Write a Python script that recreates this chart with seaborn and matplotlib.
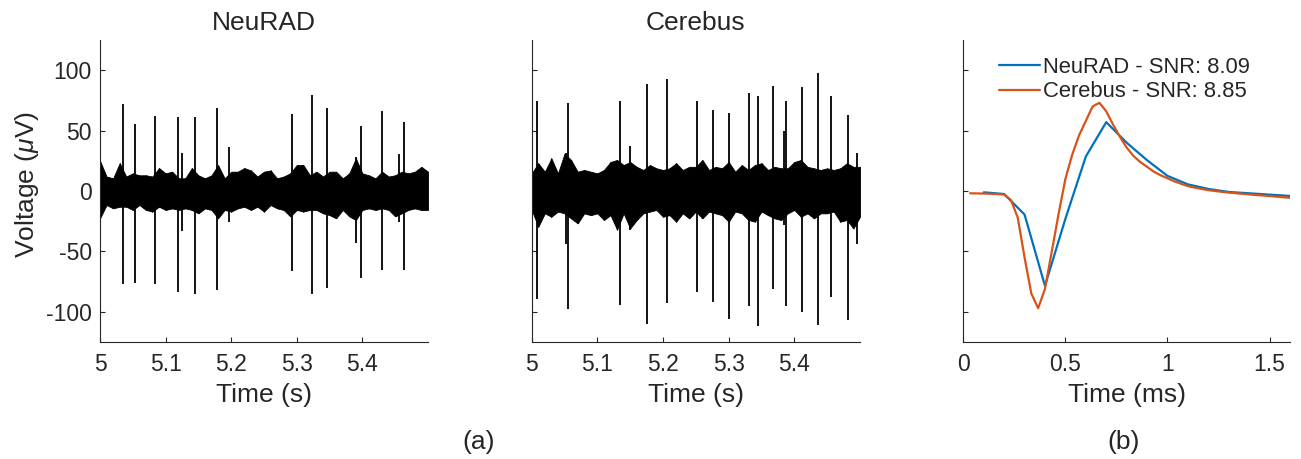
import numpy as np
import pandas as pd
import matplotlib
matplotlib.use("Agg")
import matplotlib.pyplot as plt
import seaborn as sns

# ---- data ----
# noise band envelope (µV), sampled every 10 ms from 5.00 s to 5.50 s
env_t = np.round(np.arange(51) * 0.01 + 5.0, 2)
neurad_env_hi = [25, 12, 10.5, 23, 12, 14.6, 13, 13, 12, 19, 14.6, 16, 10.5, 10.5, 19, 13, 10.5,
                 13, 21.5, 10.5, 16, 16, 19, 17, 12, 16,
                 17, 10.5, 12, 14.6, 21.5, 21.5, 13, 16, 12, 16, 16, 10.5, 14.6, 27, 14.6, 13,
                 10.5, 16, 12, 13, 16, 14.6, 16, 20, 16]
neurad_env_lo = [-22.6, -11.6, -14.4, -13, -13, -15.7, -11.6, -15.7, -17, -13, -15.7, -14.4, -15.7,
                 -14.4, -15.7, -18.5, -14.4, -15.7, -22.6, -15.7, -17, -14.4, -13, -15.7, -13, -17,
                 -11.6, -14.4, -15.7, -21, -15.7, -17, -15.7, -15.7, -18.5, -20, -22.6, -15.7, -21,
                 -24, -15.7, -14.4, -15.7, -14.4, -15.7, -21, -18.5, -15.7, -14.4, -15.7, -15.7]
cerebus_env_hi = [14.6, 23, 16, 27, 14.6, 31, 25.7, 16, 17.4, 16, 14.6, 17.4, 24, 25.7, 21.5, 24,
                  20, 17.4, 21.5, 18.8, 17.4, 18.8, 23, 17.4, 20, 20,
                  25.7, 17.4, 20, 18.8, 24, 16, 21.5, 17.4, 21.5, 23, 17.4, 20, 18.8, 18.8, 24,
                  25.7, 20, 18.8, 17.4, 18.8, 17.4, 18.8, 23, 20, 20]
cerebus_env_lo = [-15.7, -29.6, -18.5, -21.3, -17, -18.5, -22.7, -26.8, -18.5, -20, -18.5, -24, -20,
                  -32, -18.5, -31, -24, -18.5, -17, -15.7, -21.3, -20, -25.4, -18.5, -22.7, -17,
                  -22.7, -17, -18.5, -20, -25.4, -17, -18.5, -24, -25.4, -17, -20, -22.7, -24,
                  -18.5, -15.7, -21.3, -18.5, -22.7, -18.5, -18.5, -17, -25.4, -24, -31, -21.3]

# spikes: time (s), peak (µV), trough (µV)
neurad_spk_t = [5.0355, 5.0533, 5.0837, 5.1182, 5.1248, 5.1451, 5.1791, 5.1959, 5.2927, 5.3232,
                5.3465, 5.3907, 5.3983, 5.4297, 5.4556, 5.4632]
neurad_spk_hi = [71.9, 55.6, 62.2, 61.1, 31.2, 61.1, 68.5, 36.7, 63.8, 79.6, 68.5, 28.5, 53.9,
                 66.3, 30.4, 57.5]
neurad_spk_lo = [-76.6, -76, -76.6, -83.5, -32.9, -84.9, -81.6, -25.4, -66, -84.9, -80.7, -42.8,
                 -71.9, -65, -25.4, -65.5]
cerebus_spk_t = [5.0076, 5.0522, 5.0548, 5.1344, 5.1496, 5.175, 5.2055, 5.2511, 5.2764, 5.2998,
                 5.3312, 5.344, 5.3678, 5.3845, 5.3866, 5.4114, 5.4362, 5.4556, 5.481, 5.4947]
cerebus_spk_hi = [74.6, 31.2, 73.2, 74.9, 37.3, 88.7, 92.6, 74.6, 67.2, 64.4, 81.5, 78.8, 87.3,
                  50, 74.6, 86, 97.6, 78.8, 62.7, 31.8]
cerebus_spk_lo = [-89, -43.9, -97.3, -94, -32.3, -109.7, -93.1, -83.5, -91.8, -105.6, -95.1,
                  -111.9, -81.5, -28, -95.1, -100, -111.1, -87.6, -107, -44]

# mean waveforms (ms, µV)
neurad_wf_t = [0.1, 0.2, 0.3, 0.4, 0.5, 0.6, 0.7, 0.8, 0.9, 1.0, 1.1, 1.2, 1.3, 1.4, 1.5, 1.6]
neurad_wf_v = [-1.1, -2.5, -19.5, -78.5, -23, 28.5, 57, 40, 25.5, 12.5, 5.5, 1.7, -0.8, -1.9,
               -3.0, -4.1]
cerebus_wf_t = np.arange(1, 49) / 30
cerebus_wf_v = [-1.9, -2.0, -2.1, -2.3, -2.5, -3.0, -7.5, -22, -55, -85, -97, -81, -50, -19, 10,
                30, 46, 58, 70, 73, 66, 55, 45, 36, 29, 24, 20, 16, 13, 10.5, 8, 6, 4, 2.8, 1.7,
                0.7, 0, -0.7, -1.3, -1.8, -2.3, -2.8, -3.3, -3.7, -4.2, -4.7, -5.2, -5.6]
snr_neurad = 8.09
snr_cerebus = 8.85

volt_ticks = [-100, -50, 0, 50, 100]
volt_labels = ["-100", "-50", "0", "50", "100"]

# ---- style ----
sns.set_theme(style="ticks")
plt.rcParams["font.family"] = ["Liberation Sans", "DejaVu Sans"]
plt.rcParams["mathtext.fontset"] = "custom"
plt.rcParams["mathtext.rm"] = "Liberation Sans"
plt.rcParams["mathtext.it"] = "Liberation Sans:italic"

ink = "#262626"
blue = "#0072BD"
orange = "#D95319"
tick_fs = 16.5
label_fs = 19

fig = plt.figure(figsize=(13.01, 4.59), dpi=100)
W, H = 1301, 459


def add_ax(x0, x1):
    return fig.add_axes([x0 / W, 1 - 342 / H, (x1 - x0) / W, 302 / H])


ax1 = add_ax(100, 428)
ax2 = add_ax(531.7, 860)
ax3 = add_ax(963.3, 1290)


def trace(ax, env_hi, env_lo, spk_t, spk_hi, spk_lo, title):
    ax.fill_between(env_t, env_lo, env_hi, color="black", lw=0.6)
    ax.vlines(env_t, env_lo, env_hi, color="black", lw=0.9)
    ax.vlines(spk_t, spk_lo, spk_hi, color="black", lw=1.3)
    ax.set_xlim(5, 5.5)
    ax.set_xticks([5, 5.1, 5.2, 5.3, 5.4])
    ax.set_xticklabels(["5", "5.1", "5.2", "5.3", "5.4"])
    ax.set_xlabel("Time (s)", fontsize=label_fs, color=ink)
    ax.set_title(title, fontsize=label_fs, pad=7)


trace(ax1, neurad_env_hi, neurad_env_lo, neurad_spk_t, neurad_spk_hi, neurad_spk_lo, "NeuRAD")
trace(ax2, cerebus_env_hi, cerebus_env_lo, cerebus_spk_t, cerebus_spk_hi, cerebus_spk_lo,
      "Cerebus")

wf = pd.concat([
    pd.DataFrame({"t": neurad_wf_t, "v": neurad_wf_v,
                  "sys": f"NeuRAD - SNR: {snr_neurad:.2f}"}),
    pd.DataFrame({"t": cerebus_wf_t, "v": cerebus_wf_v,
                  "sys": f"Cerebus - SNR: {snr_cerebus:.2f}"}),
])
sns.lineplot(data=wf, x="t", y="v", hue="sys", palette=[blue, orange], lw=1.6,
             estimator=None, sort=True, ax=ax3)
ax3.set_xlim(0, 1.6)
ax3.set_xticks([0, 0.5, 1, 1.5])
ax3.set_xticklabels(["0", "0.5", "1", "1.5"])
ax3.set_xlabel("Time (ms)", fontsize=label_fs, color=ink)
ax3.set_ylabel("")
ax3.legend(frameon=False, loc="upper left", bbox_to_anchor=(0.108, 0.945), fontsize=15.8,
           handlelength=1.9, handletextpad=0.12, labelspacing=0.17, borderpad=0,
           borderaxespad=0)

for ax in (ax1, ax2, ax3):
    ax.set_ylim(-125, 125)
    ax.set_yticks(volt_ticks)
    ax.set_yticklabels(volt_labels)
    for s in ("top", "right"):
        ax.spines[s].set_visible(False)
    for s in ("left", "bottom"):
        ax.spines[s].set_color(ink)
        ax.spines[s].set_linewidth(0.8)
    ax.tick_params(direction="in", length=3.5, width=0.8, colors=ink, labelsize=tick_fs,
                   labelcolor=ink)
    ax.tick_params(axis="x", pad=8)
    ax.tick_params(axis="y", pad=6)
    ax.xaxis.set_label_coords(0.5, -0.135)

ax2.tick_params(axis="y", labelleft=False)
ax3.tick_params(axis="y", labelleft=False)

fig.text(27 / W, 1 - 185 / H, "Voltage ($\\mu$V)", rotation=90, ha="center", va="center",
         fontsize=label_fs, color=ink)
fig.text(479 / W, 1 - 442 / H, "(a)", ha="center", va="center", fontsize=label_fs, color=ink)
fig.text(1124 / W, 1 - 442 / H, "(b)", ha="center", va="center", fontsize=label_fs, color=ink)

fig.savefig("out.png", dpi=100, facecolor="white")
